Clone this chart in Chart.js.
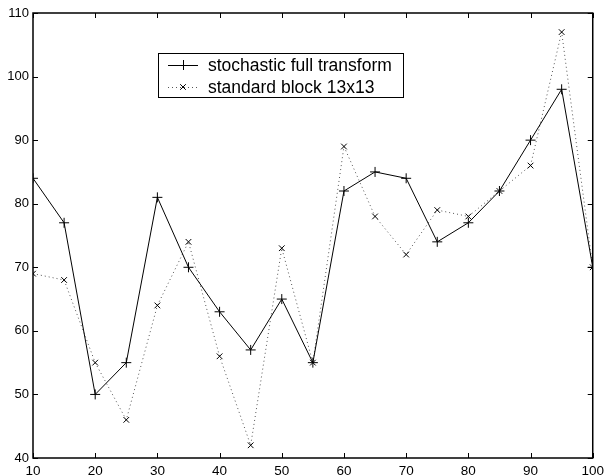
<!DOCTYPE html>
<html>
<head>
<meta charset="utf-8">
<script src="https://cdn.jsdelivr.net/npm/chart.js@4/dist/chart.umd.min.js"></script>
<style>
  html, body { margin: 0; padding: 0; background: #fff; }
  #wrap { width: 609px; height: 476px; position: relative; }
</style>
</head>
<body>
<div id="wrap"><canvas id="chart"></canvas></div>
<script>
// Values.
const blockSizes = [10, 15, 20, 25, 30, 35, 40, 45, 50, 55, 60, 65, 70, 75, 80, 85, 90, 95, 100];
const stochasticFull = [84, 77, 50, 55, 81, 70, 63, 57, 65, 55, 82, 85, 84, 74, 77, 82, 90, 98, 70];
const standardBlock = [69, 68, 55, 46, 64, 74, 56, 42, 73, 55, 89, 78, 72, 79, 78, 82, 86, 107, 70];
const seriesLabels = ["stochastic full transform", "standard block 13x13"];
const xTicks = [10, 20, 30, 40, 50, 60, 70, 80, 90, 100];
const yTicks = [40, 50, 60, 70, 80, 90, 100, 110];

const FONT = "'Liberation Sans', Arial, Helvetica, sans-serif";

function toPoints(values) {
  return blockSizes.map((x, i) => ({ x, y: values[i] }));
}

// MATLAB style box: inward ticks on all four sides.
const boxTicks = {
  id: "boxTicks",
  afterDatasetsDraw(chart) {
    const { ctx, chartArea: a, scales } = chart;
    const len = 5;
    ctx.save();
    ctx.strokeStyle = "#000";
    ctx.lineWidth = 1;
    ctx.beginPath();
    xTicks.forEach((v) => {
      const px = Math.round(scales.x.getPixelForValue(v)) + 0.5;
      ctx.moveTo(px, a.bottom); ctx.lineTo(px, a.bottom - len);
      ctx.moveTo(px, a.top); ctx.lineTo(px, a.top + len);
    });
    yTicks.forEach((v) => {
      const py = Math.round(scales.y.getPixelForValue(v)) + 0.5;
      ctx.moveTo(a.left, py); ctx.lineTo(a.left + len, py);
      ctx.moveTo(a.right, py); ctx.lineTo(a.right - len, py);
    });
    ctx.stroke();
    ctx.lineWidth = 1.5;
    ctx.strokeRect(a.left, a.top, a.right - a.left, a.bottom - a.top);
    ctx.restore();
  },
};

// Legend box drawn inside the plot, like the original.
const insideLegend = {
  id: "insideLegend",
  afterDraw(chart) {
    const { ctx } = chart;
    const x0 = 158, y0 = 53, w = 245, h = 44;
    ctx.save();
    ctx.fillStyle = "#fff";
    ctx.fillRect(x0, y0, w, h);
    ctx.strokeStyle = "#000";
    ctx.lineWidth = 1;
    ctx.strokeRect(x0 + 0.5, y0 + 0.5, w, h);
    chart.data.datasets.forEach((ds, i) => {
      const cy = y0 + 12 + i * 22;
      ctx.strokeStyle = ds.borderColor;
      ctx.lineWidth = 1;
      ctx.setLineDash(ds.borderDash || []);
      ctx.beginPath();
      ctx.moveTo(168, cy + 0.5);
      ctx.lineTo(198, cy + 0.5);
      ctx.stroke();
      ctx.setLineDash([]);
      ctx.strokeStyle = "#000";
      ctx.beginPath();
      const r = ds.pointRadius;
      if (ds.pointStyle === "cross") {
        ctx.moveTo(183 - r, cy + 0.5); ctx.lineTo(183 + r, cy + 0.5);
        ctx.moveTo(183.5, cy - r); ctx.lineTo(183.5, cy + r);
      } else {
        ctx.moveTo(183 - r * 0.7, cy - r * 0.7); ctx.lineTo(183 + r * 0.7, cy + r * 0.7);
        ctx.moveTo(183 - r * 0.7, cy + r * 0.7); ctx.lineTo(183 + r * 0.7, cy - r * 0.7);
      }
      ctx.stroke();
      ctx.fillStyle = "#000";
      ctx.font = "17.5px " + FONT;
      ctx.textBaseline = "middle";
      ctx.fillText(ds.label, 208, cy + 1);
    });
    ctx.restore();
  },
};

new Chart(document.getElementById("chart"), {
  type: "scatter",
  data: {
    datasets: [
      {
        label: seriesLabels[0],
        data: toPoints(stochasticFull),
        showLine: true,
        borderColor: "#000",
        backgroundColor: "#000",
        borderWidth: 1,
        pointStyle: "cross",
        pointRadius: 5,
        pointBorderWidth: 1,
        pointBorderColor: "#000",
      },
      {
        label: seriesLabels[1],
        data: toPoints(standardBlock),
        showLine: true,
        borderColor: "#555",
        backgroundColor: "#000",
        borderWidth: 1,
        borderDash: [1, 3],
        pointStyle: "crossRot",
        pointRadius: 4,
        pointBorderWidth: 1,
        pointBorderColor: "#000",
      },
    ],
  },
  options: {
    responsive: true,
    maintainAspectRatio: false,
    animation: false,
    layout: { padding: { top: 13, right: 11, left: 0, bottom: 0 } },
    plugins: {
      legend: { display: false },
      tooltip: { enabled: false },
    },
    scales: {
      x: {
        type: "linear",
        min: 10,
        max: 100,
        afterBuildTicks(scale) {
          scale.ticks = xTicks.map((value) => ({ value }));
        },
        afterFit(scale) {
          scale.height = 18;
        },
        grid: { display: false, drawTicks: false },
        border: { display: false },
        ticks: {
          color: "#000",
          padding: 5,
          maxRotation: 0,
          autoSkip: false,
          font: { family: FONT, size: 13.5 },
        },
      },
      y: {
        type: "linear",
        min: 40,
        max: 110,
        afterBuildTicks(scale) {
          scale.ticks = yTicks.map((value) => ({ value }));
        },
        afterFit(scale) {
          scale.width = 33;
        },
        grid: { display: false, drawTicks: false },
        border: { display: false },
        ticks: {
          color: "#000",
          padding: 4,
          autoSkip: false,
          font: { family: FONT, size: 13 },
        },
      },
    },
  },
  plugins: [boxTicks, insideLegend],
});
</script>
</body>
</html>
